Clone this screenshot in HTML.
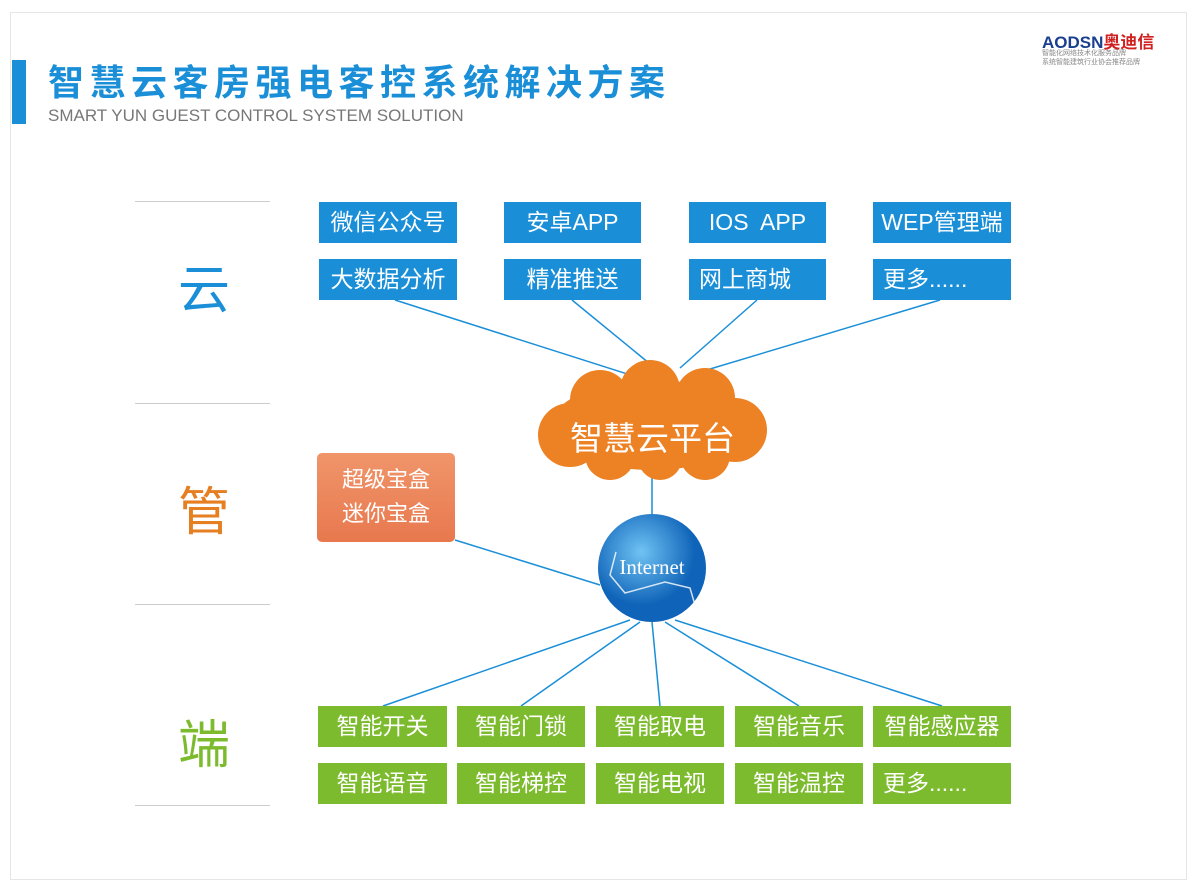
<!DOCTYPE html>
<html><head><meta charset="utf-8"><style>
body{margin:0;width:1200px;height:891px;background:#fff;position:relative;overflow:hidden;font-family:"Liberation Sans","Noto Sans CJK SC",sans-serif}
.a{position:absolute}
.b{position:absolute;color:#fff;font-size:23px;text-align:center;line-height:41px;height:41px}
.bl{background:#1a8fd8}
.gr{background:#7dbb2e}
.sep{position:absolute;left:135px;width:135px;height:1px;background:#ccc}
</style></head><body>
<div class="a" style="left:10px;top:12px;width:1175px;height:866px;border:1px solid #e6e6e6"></div>
<div class="a" style="left:12px;top:60px;width:14px;height:64px;background:#1a8fd8"></div>
<div class="a" style="left:48px;top:54px;font-size:36px;font-weight:bold;color:#1a8fd8;letter-spacing:5.5px">智慧云客房强电客控系统解决方案</div>
<div class="a" style="left:48px;top:106px;font-size:17px;color:#777">SMART YUN GUEST CONTROL SYSTEM SOLUTION</div>
<div class="a" style="left:1042px;top:28px;font-size:17px;font-weight:bold;color:#1a3f8f">AODSN<span style="color:#d02020">奥迪信</span></div>
<div class="a" style="left:1042px;top:49px;font-size:7px;color:#888;line-height:9px">智能化网络技术化服务品牌<br>系统智能建筑行业协会推荐品牌</div>

<div class="sep" style="top:201px"></div><div class="sep" style="top:403px"></div><div class="sep" style="top:604px"></div><div class="sep" style="top:805px"></div>
<div class="a" style="left:178px;top:248px;font-size:52px;color:#1a8fd8">云</div>
<div class="a" style="left:178px;top:470px;font-size:52px;color:#e67e22">管</div>
<div class="a" style="left:178px;top:703px;font-size:52px;color:#7dbb2e">端</div>

<svg class="a" style="left:0;top:0" width="1200" height="891">
<g stroke="#1a8fd8" stroke-width="1.5">
<line x1="395" y1="300" x2="640" y2="378"/><line x1="572" y1="300" x2="655" y2="368"/>
<line x1="757" y1="300" x2="680" y2="368"/><line x1="940" y1="300" x2="690" y2="375"/>
<line x1="652" y1="478" x2="652" y2="515"/><line x1="455" y1="540" x2="600" y2="585"/>
<line x1="630" y1="620" x2="383" y2="706"/><line x1="640" y1="622" x2="521" y2="706"/>
<line x1="652" y1="622" x2="660" y2="706"/><line x1="665" y1="622" x2="799" y2="706"/>
<line x1="675" y1="620" x2="942" y2="706"/>
</g>
<g fill="#ec8224">
<ellipse cx="652" cy="425" rx="100" ry="45"/>
<circle cx="600" cy="400" r="30"/><circle cx="650" cy="390" r="30"/><circle cx="705" cy="398" r="30"/>
<circle cx="570" cy="435" r="32"/><circle cx="735" cy="430" r="32"/>
<circle cx="610" cy="455" r="25"/><circle cx="660" cy="458" r="22"/><circle cx="705" cy="455" r="25"/>
</g>
<defs><radialGradient id="g" cx="40%" cy="35%"><stop offset="0" stop-color="#6fc3f3"/><stop offset="1" stop-color="#0f63b8"/></radialGradient></defs>
<circle cx="652" cy="568" r="54" fill="url(#g)"/>
<polyline points="616,552 610,575 625,593 665,582 690,588 695,605" fill="none" stroke="#fff" stroke-width="1.5" opacity=".8"/>
</svg>
<div class="a" style="left:560px;top:412px;width:185px;text-align:center;font-size:33px;color:#fff">智慧云平台</div>
<div class="a" style="left:598px;top:555px;width:108px;text-align:center;font-size:21px;color:#fff;font-family:'Liberation Serif',serif">Internet</div>
<div class="a" style="left:317px;top:453px;width:138px;height:89px;background:linear-gradient(#f0956a,#e8784e);border-radius:5px;color:#fff;font-size:22px;text-align:center;line-height:34px;padding-top:10px;box-sizing:border-box">超级宝盒<br>迷你宝盒</div>

<div class="b bl" style="left:319px;top:202px;width:138px">微信公众号</div>
<div class="b bl" style="left:504px;top:202px;width:137px">安卓APP</div>
<div class="b bl" style="left:689px;top:202px;width:137px">IOS&nbsp; APP</div>
<div class="b bl" style="left:873px;top:202px;width:138px">WEP管理端</div>
<div class="b bl" style="left:319px;top:259px;width:138px">大数据分析</div>
<div class="b bl" style="left:504px;top:259px;width:137px">精准推送</div>
<div class="b bl" style="left:689px;top:259px;width:137px;text-align:left;padding-left:10px;box-sizing:border-box">网上商城</div>
<div class="b bl" style="left:873px;top:259px;width:138px;text-align:left;padding-left:10px;box-sizing:border-box">更多......</div>

<div class="b gr" style="left:318px;top:706px;width:129px">智能开关</div>
<div class="b gr" style="left:457px;top:706px;width:128px">智能门锁</div>
<div class="b gr" style="left:596px;top:706px;width:128px">智能取电</div>
<div class="b gr" style="left:735px;top:706px;width:128px">智能音乐</div>
<div class="b gr" style="left:873px;top:706px;width:138px">智能感应器</div>
<div class="b gr" style="left:318px;top:763px;width:129px">智能语音</div>
<div class="b gr" style="left:457px;top:763px;width:128px">智能梯控</div>
<div class="b gr" style="left:596px;top:763px;width:128px">智能电视</div>
<div class="b gr" style="left:735px;top:763px;width:128px">智能温控</div>
<div class="b gr" style="left:873px;top:763px;width:138px;text-align:left;padding-left:10px;box-sizing:border-box">更多......</div>
</body></html>
